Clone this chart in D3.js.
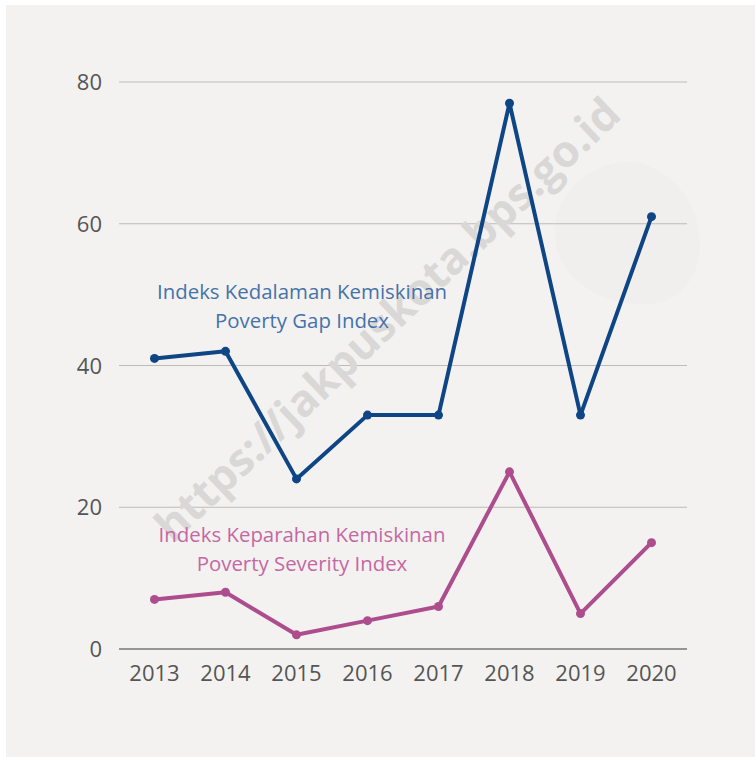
<!DOCTYPE html>
<html lang="en">
<head>
    <meta charset="UTF-8">
    <title>Indeks Kemiskinan</title>
    <script src="https://cdn.jsdelivr.net/npm/d3@7"></script>
    <style>
        body { margin: 0; background: #fff; }
        text { font-family: "Open Sans", sans-serif; }
    </style>
</head>
<body>
    <svg width="755" height="757"></svg>
    <script>
        const years = ['2013', '2014', '2015', '2016', '2017', '2018', '2019', '2020']
        const gapIndex = [41, 42, 24, 33, 33, 77, 33, 61]
        const severityIndex = [7, 8, 2, 4, 6, 25, 5, 15]
        const yTicks = [0, 20, 40, 60, 80]

        const svg = d3.select('svg')

        // panel background
        svg.append('rect')
            .attr('x', 6).attr('y', 5)
            .attr('width', 749).attr('height', 752)
            .attr('fill', '#f3f2f1')

        // faint blob behind top-right
        svg.append('path')
            .attr('d', 'M600,168 C640,150 680,175 695,215 C710,260 690,300 650,304 C610,308 565,285 556,245 C550,210 570,180 600,168 Z')
            .attr('fill', '#f0efee')

        const x = d3.scalePoint().domain(years).range([119, 687]).padding(0.5)
        const y = d3.scaleLinear().domain([0, 80]).range([649, 82])

        // grid lines
        svg.append('g')
            .selectAll('line')
            .data(yTicks)
            .join('line')
            .attr('x1', 119).attr('x2', 687)
            .attr('y1', d => y(d)).attr('y2', d => y(d))
            .attr('stroke', d => d == 0 ? '#777' : '#bdbbba')
            .attr('stroke-width', d => d == 0 ? 1.3 : 1)

        // y labels
        svg.append('g')
            .selectAll('text')
            .data(yTicks)
            .join('text')
            .attr('x', 102)
            .attr('y', d => y(d) + 8)
            .attr('text-anchor', 'end')
            .attr('font-size', 22)
            .attr('fill', '#555')
            .text(d => d)

        // x labels
        svg.append('g')
            .selectAll('text')
            .data(years)
            .join('text')
            .attr('x', d => x(d))
            .attr('y', 681)
            .attr('text-anchor', 'middle')
            .attr('font-size', 22)
            .attr('fill', '#555')
            .text(d => d)

        // watermark
        svg.append('text')
            .attr('transform', 'translate(390,322) rotate(-43.5)')
            .attr('text-anchor', 'middle')
            .attr('dominant-baseline', 'middle')
            .attr('font-size', 44)
            .attr('font-weight', 700)
            .attr('fill', '#dad8d7')
            .text('https://jakpuskota.bps.go.id')

        const line = d3.line().x((d, i) => x(years[i])).y(d => y(d))

        const series = [
            { values: gapIndex, color: '#0e4585' },
            { values: severityIndex, color: '#ad4d8d' }
        ]

        series.forEach(s => {
            svg.append('path')
                .datum(s.values)
                .attr('d', line)
                .attr('fill', 'none')
                .attr('stroke', s.color)
                .attr('stroke-width', 4)
                .attr('stroke-linejoin', 'round')
            svg.append('g')
                .selectAll('circle')
                .data(s.values)
                .join('circle')
                .attr('cx', (d, i) => x(years[i]))
                .attr('cy', d => y(d))
                .attr('r', 4.5)
                .attr('fill', s.color)
        })

        // series labels
        const labels = [
            { lines: ['Indeks Kedalaman Kemiskinan', 'Poverty Gap Index'], y: 299, color: '#4672a9' },
            { lines: ['Indeks Keparahan Kemiskinan', 'Poverty Severity Index'], y: 542, color: '#c468a3' }
        ]
        labels.forEach(l => {
            svg.append('text')
                .attr('text-anchor', 'middle')
                .attr('font-size', 20.4)
                .attr('fill', l.color)
                .selectAll('tspan')
                .data(l.lines)
                .join('tspan')
                .attr('x', 302)
                .attr('y', (d, i) => l.y + i * 29)
                .text(d => d)
        })
    </script>
</body>
</html>
